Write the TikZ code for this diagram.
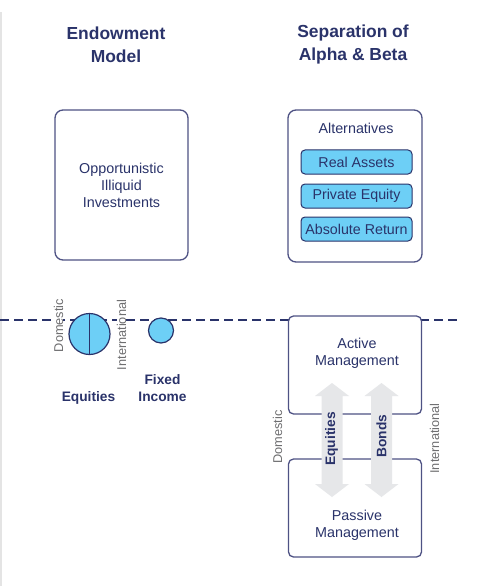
\documentclass[tikz,border=0pt]{standalone}
\usepackage{fontspec}
\setmainfont{Liberation Sans}
\definecolor{navy}{HTML}{2A336A}
\definecolor{boxline}{HTML}{4E5284}
\definecolor{lblue}{HTML}{6DCFF6}
\definecolor{lgray}{HTML}{6E6E70}
\definecolor{agray}{HTML}{E6E7E9}
\definecolor{edge}{HTML}{E4E4E4}
\tikzset{
  title/.style={text=navy, font=\fontsize{17.5}{23}\selectfont\bfseries, align=center, inner sep=0},
  body/.style={text=navy, font=\fontsize{14.4}{17}\selectfont, align=center, inner sep=0},
  bodybold/.style={text=navy, font=\fontsize{13.8}{17}\selectfont\bfseries, align=center, inner sep=0},
  bigbox/.style={draw=boxline, line width=1.3bp, rounded corners=8bp, fill=white},
  mgmtbox/.style={draw=boxline, line width=1.3bp, rounded corners=5bp, fill=white},
  pill/.style={draw=navy, line width=1bp, rounded corners=4bp, fill=lblue, text=navy,
    font=\fontsize{14.3}{17}\selectfont, minimum width=111bp, minimum height=24bp, inner sep=0},
  side/.style={text=lgray, font=\fontsize{12.8}{14}\selectfont, rotate=90, inner sep=0, fill=white, inner xsep=3bp},
  bubble/.style={draw=navy, line width=1.2bp, fill=lblue, circle, inner sep=0},
  dashline/.style={draw=navy, line width=1.8bp, dash pattern=on 9bp off 5bp},
  arrowfill/.style={fill=agray},
}
\begin{document}
\begin{tikzpicture}[x=1bp,y=-1bp]
\useasboundingbox (0,0) rectangle (486,586);
% left edge rule
\draw[edge, line width=1.5bp] (0.75,12) -- (0.75,586);
% titles
\node[title] (t1) at (116,44.5) {Endowment\\Model};
\node[title] (t2) at (353,44.5) {Separation of\\Alpha \& Beta};
% top boxes
\node[bigbox, minimum width=133bp, minimum height=150bp, body] (opp) at (121.5,185) {Opportunistic\\Illiquid\\Investments};
\node[bigbox, minimum width=134bp, minimum height=152bp] (alt) at (355,186) {};
\node[body] (altl) at (356,128) {Alternatives};
\node[pill] (ra) at (356.5,162) {Real Assets};
\node[pill] (pe) at (356.5,196) {Private Equity};
\node[pill] (ar) at (356.5,229) {Absolute Return};
% dashed line
\coordinate (dl) at (0,320);
\coordinate (dr) at (461,320);
\draw[dashline] (dl) -- (dr);
% left bubbles
\node[side] (dom1) at (58.5,325.5) {Domestic};
\node[side, inner xsep=5bp] (int1) at (121.5,335) {International};
\node[bubble, minimum size=41bp] (eq) at (89.5,334) {};
\draw[navy, line width=1.2bp] (eq.north) -- (eq.south);
\node[bubble, minimum size=25bp] (fi) at (161,330.5) {};
\node[bodybold] (eql) at (88.5,398) {Equities};
\node[bodybold] (fil) at (162.5,388.5) {Fixed\\Income};
% management boxes
\node[mgmtbox, minimum width=133bp, minimum height=98bp] (act) at (355,365) {};
\node[mgmtbox, minimum width=133bp, minimum height=98bp] (pas) at (355,508) {};
\node[body] (actl) at (357,353) {Active\\Management};
\node[body] (pasl) at (357,525) {Passive\\Management};
% double arrows
\foreach \cx/\nm in {332/eqa, 381.5/bda}{
  \fill[arrowfill] (\cx,383) -- (\cx+17,396) -- (\cx+10.5,396) -- (\cx+10.5,484) -- (\cx+17,484)
    -- (\cx,497) -- (\cx-17,484) -- (\cx-10.5,484) -- (\cx-10.5,396) -- (\cx-17,396) -- cycle;
}
\node[bodybold, rotate=90] (eqt) at (331.5,439) {Equities};
\node[bodybold, rotate=90] (bdt) at (381.5,436) {Bonds};
\node[side, fill=none] (dom2) at (277.5,437) {Domestic};
\node[side, fill=none] (int2) at (434.5,438.5) {International};
\end{tikzpicture}
\end{document}
